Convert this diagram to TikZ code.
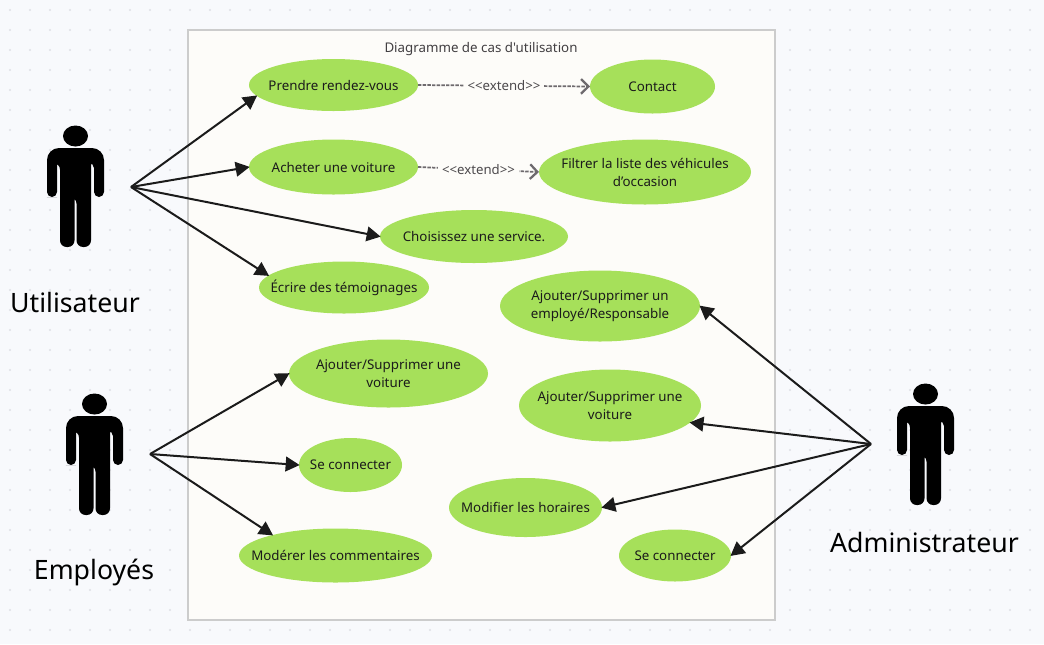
\documentclass[tikz,border=0pt]{standalone}
\usepackage{fontspec}
\usetikzlibrary{arrows.meta, shapes.geometric}
\newfontfamily\diagfont{Noto Sans}
\definecolor{UCbg}{HTML}{F8F9FC}
\definecolor{UCdot}{HTML}{DFE0E6}
\definecolor{UCframe}{HTML}{FDFCF9}
\definecolor{UCborder}{HTML}{CCCCCC}
\definecolor{UCgreen}{HTML}{A6E05A}
\definecolor{UCink}{HTML}{1B1B1B}
\definecolor{UCgray}{HTML}{6E6A6E}
\tikzset{
   usecase/.style 2 args={ellipse, fill=UCgreen, text=UCink, align=center, inner sep=-16pt, outer sep=0pt,
      minimum width=#1*0.75pt, minimum height=#2*0.75pt, font=\diagfont\fontsize{10}{13.5}\selectfont},
   actorname/.style={text=black, font=\diagfont\fontsize{20}{24}\selectfont},
   assoc/.style={-{Triangle[length=10.5pt, width=11pt]}, UCink, line width=1.5pt, shorten >=-0.5pt},
   extendline/.style={-{Straight Barb[length=5.5pt, width=11pt, line width=1.7pt]}, UCgray, line width=1.3pt, dash pattern=on 2.6pt off 0.9pt},
   extendlabel/.style={fill=UCframe, text=UCgray!70!black, inner xsep=3pt, inner ysep=2pt, font=\diagfont\fontsize{9.9}{12}\selectfont},
   pics/actor/.style={code={
      \fill (0,0) ellipse [x radius=12.5, y radius=10.5];
      \fill[rounded corners=3.8pt] (-23.5,61) -- (-28.5,61) -- (-28.5,40)
         [rounded corners=9pt] -- (-28.5,12) -- (28.5,12) -- (28.5,40)
         [rounded corners=3.8pt] -- (28.5,61) -- (18.5,61) -- (18.5,27)
         [sharp corners] -- (15.5,27)
         [rounded corners=5pt] -- (15.5,111) -- (1,111) -- (1,61)
         [sharp corners] -- (-1,61)
         [rounded corners=5pt] -- (-1,111) -- (-15.5,111) -- (-15.5,27)
         [sharp corners] -- (-18.5,27)
         [rounded corners=3.8pt] -- (-18.5,61) -- cycle;
   }}
}
\begin{document}
\begin{tikzpicture}[x=0.75pt, y=-0.75pt]
   \useasboundingbox (0,0) rectangle (1044,644);
   \fill[UCbg] (0,0) rectangle (1044,644);
   \foreach \dotx in {0,...,51} {
      \foreach \doty in {0,...,31} {
         \fill[UCdot] (10+20*\dotx,10+20*\doty) circle (0.9pt);
      }
   }
   \draw[UCborder, fill=UCframe, line width=1.5pt] (188,30) rectangle (775,620);
   \node[text=UCgray!60!black, font=\diagfont\fontsize{10}{12}\selectfont] (title) at (481,49.5) {Diagramme de cas d'utilisation};

   % actors
   \pic at (75.5,136) {actor};
   \pic at (94.5,404) {actor};
   \pic at (925.5,394) {actor};
   \node[actorname] (utilisateur) at (75,302.5) {Utilisateur};
   \node[actorname] (employes) at (94,572) {Employés};
   \node[actorname] (administrateur) at (924.5,542.5) {Administrateur};
   \coordinate (userhub) at (131,187);
   \coordinate (staffhub) at (150,454);
   \coordinate (adminhub) at (871,444);

   % use cases
   \node[usecase={169}{52}] (rendezvous) at (333.5,85) {Prendre rendez-vous};
   \node[usecase={125}{54}] (contact) at (652.5,86.5) {Contact};
   \node[usecase={169}{55}] (acheter) at (333.5,167) {Acheter une voiture};
   \node[usecase={212}{65}] (filtrer) at (645,172) {Filtrer la liste des véhicules\\d’occasion};
   \node[usecase={188}{53}] (service) at (474,236.5) {Choisissez une service.};
   \node[usecase={170}{52}] (temoignages) at (344,287.5) {Écrire des témoignages};
   \node[usecase={200}{71}] (employe) at (600,306) {Ajouter/Supprimer un\\employé/Responsable};
   \node[usecase={182}{72}] (voitureadmin) at (610,405.5) {Ajouter/Supprimer une\\voiture};
   \node[usecase={199}{68}] (voiturestaff) at (388.5,373.5) {Ajouter/Supprimer une\\voiture};
   \node[usecase={103}{54}] (connecterstaff) at (350.5,465) {Se connecter};
   \node[usecase={193}{54}] (moderer) at (335.5,555.5) {Modérer les commentaires};
   \node[usecase={153}{59}] (horaires) at (525.5,507.5) {Modifier les horaires};
   \node[usecase={112}{52}] (connecteradmin) at (675,555.5) {Se connecter};

   % connectors
   \draw[assoc] (userhub) -- (rendezvous.188);
   \draw[assoc] (userhub) -- (acheter.west);
   \draw[assoc] (userhub) -- (service.west);
   \draw[assoc] (userhub) -- (temoignages.171);
   \draw[assoc] (staffhub) -- (voiturestaff.west);
   \draw[assoc] (staffhub) -- (connecterstaff.west);
   \draw[assoc] (staffhub) -- (moderer.162);
   \draw[assoc] (adminhub) -- (employe.east);
   \draw[assoc] (adminhub) -- (voitureadmin.-12);
   \draw[assoc] (adminhub) -- (horaires.east);
   \draw[assoc] (adminhub) -- (connecteradmin.east);
   \draw[extendline] (rendezvous.east) -- node[extendlabel] (extendcontact) {<<extend>>} (contact.west);
   \draw[extendline] (acheter.east) -- node[extendlabel] (extendfiltrer) {<<extend>>} (filtrer.west);
\end{tikzpicture}
\end{document}
